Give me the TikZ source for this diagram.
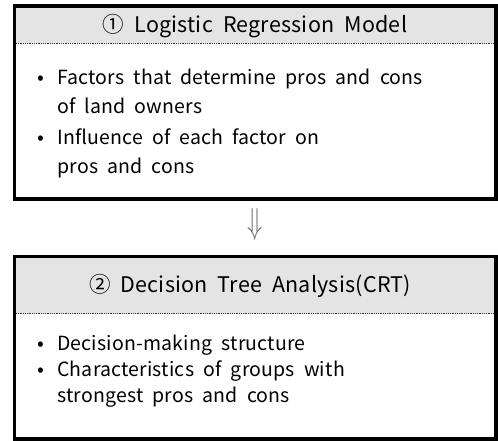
\documentclass[tikz,border=0pt]{standalone}
\usepackage{fontspec}
\setmainfont[WordSpace=2.0, LetterSpace=1]{Noto Sans CJK KR}
\definecolor{hdrgray}{RGB}{228,228,228}
\definecolor{arrgray}{RGB}{110,110,110}
\tikzset{
  box/.style={draw=black, line width=3.5pt},
  hdrfill/.style={fill=hdrgray},
  dotline/.style={line width=0.9pt, dash pattern=on 0.9pt off 0.9pt, black!80},
  hdrtxt/.style={anchor=base, inner sep=0pt, font=\fontsize{21.5}{23}\selectfont},
  bodytxt/.style={anchor=base west, inner sep=0pt, font=\fontsize{19.5}{22}\selectfont},
  bul/.style={anchor=base, inner sep=0pt, font=\fontsize{20}{22}\selectfont},
}
\begin{document}
\begin{tikzpicture}[x=1pt,y=-1pt]
\useasboundingbox (0,0) rectangle (498,441);
% Box 1
\fill[hdrgray] (14.5,6) rectangle (496,43.5);
\coordinate (d1a) at (16,43.5);
\coordinate (d1b) at (494,43.5);
\draw[dotline] (d1a) -- (d1b);
\draw[box] (14.5,6) rectangle (496,199);
\node[hdrtxt] (h1) at (255,33) {① Logistic Regression Model};
\node[bul] (b11) at (41,85) {•};
\node[bodytxt] (t11) at (57,85) {Factors that determine pros and cons};
\node[bodytxt] (t12) at (57,113.5) {of land owners};
\node[bul] (b12) at (41,145) {•};
\node[bodytxt] (t13) at (57,145) {Influence of each factor on};
\node[bodytxt] (t14) at (57,173) {pros and cons};
% Arrow
\node[inner sep=0pt, text=arrgray, font=\fontsize{30}{32}\selectfont] (arr) at (255,224) {\scalebox{1}[1.45]{$\Downarrow$}};
% Box 2
\fill[hdrgray] (14.5,256.5) rectangle (496,313.5);
\coordinate (d2a) at (16,313.5);
\coordinate (d2b) at (494,313.5);
\draw[dotline] (d2a) -- (d2b);
\draw[box] (14.5,256.5) rectangle (496,439);
\node[hdrtxt] (h2) at (250,292) {② Decision Tree Analysis(CRT)};
\node[bul] (b21) at (41,350) {•};
\node[bodytxt] (t21) at (57,350) {Decision-making structure};
\node[bul] (b22) at (41,376) {•};
\node[bodytxt] (t22) at (57,376) {Characteristics of groups with};
\node[bodytxt] (t23) at (57,402) {strongest pros and cons};
\end{tikzpicture}
\end{document}
